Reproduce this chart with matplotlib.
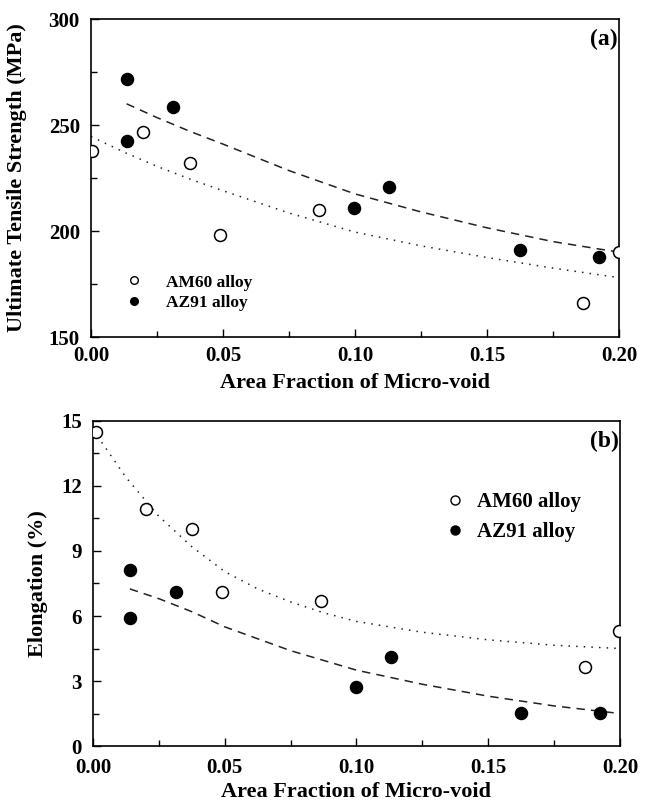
import matplotlib
matplotlib.use("Agg")
import matplotlib.pyplot as plt
from matplotlib.ticker import MultipleLocator, FormatStrFormatter
from matplotlib.lines import Line2D

plt.rcParams['font.family'] = ['Liberation Serif', 'DejaVu Serif']
plt.rcParams['font.weight'] = 'bold'

# (a) ultimate tensile strength vs area fraction of micro-void
am60_uts_x = [0.0003, 0.0198, 0.0375, 0.0489, 0.0865, 0.1865, 0.2001]
am60_uts_y = [237.7, 246.8, 231.9, 198.0, 209.8, 166.0, 190.1]
az91_uts_x = [0.0136, 0.0138, 0.0312, 0.0997, 0.1130, 0.1625, 0.1925]
az91_uts_y = [271.7, 242.5, 258.6, 211.0, 220.8, 190.9, 187.8]

# fitted trend curves as drawn in the figure
am60_uts_fit_x = [0.0, 0.0125, 0.025, 0.0375, 0.05, 0.075, 0.1, 0.125, 0.15, 0.175, 0.2]
am60_uts_fit_y = [244.6, 237.2, 230.5, 224.5, 219.0, 208.5, 199.5, 193.0, 187.5, 182.5, 178.0]
az91_uts_fit_x = [0.0135, 0.025, 0.0375, 0.05, 0.075, 0.1, 0.125, 0.15, 0.175, 0.2]
az91_uts_fit_y = [260.0, 253.5, 247.0, 241.0, 228.5, 217.5, 209.0, 201.5, 195.0, 190.0]

# (b) elongation vs area fraction of micro-void
am60_el_x = [0.0010, 0.0200, 0.0374, 0.0488, 0.0865, 0.1866, 0.1997]
am60_el_y = [14.5, 10.93, 10.02, 7.11, 6.71, 3.63, 5.32]
az91_el_x = [0.0140, 0.0140, 0.0314, 0.0997, 0.1130, 0.1626, 0.1923]
az91_el_y = [8.10, 5.91, 7.11, 2.73, 4.11, 1.51, 1.51]

am60_el_fit_x = [0.0, 0.0125, 0.025, 0.0375, 0.05, 0.0625, 0.075, 0.0875, 0.1, 0.125, 0.15, 0.175, 0.2]
am60_el_fit_y = [14.6, 12.4, 10.6, 9.2, 8.05, 7.25, 6.65, 6.15, 5.75, 5.25, 4.9, 4.65, 4.5]
az91_el_fit_x = [0.014, 0.025, 0.0375, 0.05, 0.075, 0.1, 0.125, 0.15, 0.175, 0.2]
az91_el_fit_y = [7.25, 6.8, 6.2, 5.5, 4.4, 3.5, 2.85, 2.3, 1.85, 1.5]

labels = ['AM60 alloy', 'AZ91 alloy']
xticks = [0.00, 0.05, 0.10, 0.15, 0.20]

fig = plt.figure(figsize=(6.47, 8.02), dpi=100)
ax1 = fig.add_axes([0.1406, 0.5798, 0.8161, 0.3965])
ax2 = fig.add_axes([0.1437, 0.0698, 0.8146, 0.4053])

ms = 8.6
dot_style = (0, (1, 4))
dash_style = (0, (5.5, 4))


def draw_panel(ax, ax_am_x, ax_am_y, ax_az_x, ax_az_y, fit_am, fit_az, xpad):
    ax.plot(fit_am[0], fit_am[1], linestyle=dot_style, color='#222222', lw=1.1, zorder=2)
    ax.plot(fit_az[0], fit_az[1], linestyle=dash_style, color='#222222', lw=1.1, zorder=2)
    ax.plot(ax_am_x, ax_am_y, 'o', ms=ms, mfc='white', mec='black', mew=1.1, zorder=3)
    ax.plot(ax_az_x, ax_az_y, 'o', ms=ms, mfc='black', mec='black', mew=1.1, zorder=3)
    ax.set_xlim(0, 0.2)
    ax.set_xticks(xticks)
    ax.xaxis.set_major_formatter(FormatStrFormatter('%.2f'))
    ax.xaxis.set_minor_locator(MultipleLocator(0.025))
    ax.tick_params(which='both', direction='in', top=False, right=False,
                   labelsize=15, width=1.0)
    ax.tick_params(axis='x', pad=xpad)
    ax.tick_params(axis='y', pad=8)
    ax.tick_params(which='major', length=6)
    ax.tick_params(which='minor', length=4)
    for s in ax.spines.values():
        s.set_linewidth(1.2)
    for lab in ax.get_xticklabels() + ax.get_yticklabels():
        lab.set_fontweight('bold')


draw_panel(ax1, am60_uts_x, am60_uts_y, az91_uts_x, az91_uts_y,
           (am60_uts_fit_x, am60_uts_fit_y), (az91_uts_fit_x, az91_uts_fit_y), 6.5)
ax1.set_ylim(150, 300)
ax1.yaxis.set_major_locator(MultipleLocator(50))
ax1.yaxis.set_minor_locator(MultipleLocator(25))
ax1.set_xlabel('Area Fraction of Micro-void', fontsize=16, fontweight='bold')
ax1.set_ylabel('Ultimate Tensile Strength (MPa)', fontsize=16, fontweight='bold')
ax1.xaxis.set_label_coords(0.5, -0.112)
ax1.yaxis.set_label_coords(-0.14, 0.5)
ax1.yaxis.label.set_va('center')
ax1.text(0.998, 0.968, '(a)', transform=ax1.transAxes, ha='right', va='top',
         fontsize=17, fontweight='bold')

draw_panel(ax2, am60_el_x, am60_el_y, az91_el_x, az91_el_y,
           (am60_el_fit_x, am60_el_fit_y), (az91_el_fit_x, az91_el_fit_y), 8.5)
ax2.set_ylim(0, 15)
ax2.yaxis.set_major_locator(MultipleLocator(3))
ax2.yaxis.set_minor_locator(MultipleLocator(1.5))
ax2.set_xlabel('Area Fraction of Micro-void', fontsize=16, fontweight='bold')
ax2.set_ylabel('Elongation (%)', fontsize=16, fontweight='bold')
ax2.xaxis.set_label_coords(0.5, -0.11)
ax2.yaxis.set_label_coords(-0.104, 0.5)
ax2.yaxis.label.set_va('center')
ax2.text(0.998, 0.968, '(b)', transform=ax2.transAxes, ha='right', va='top',
         fontsize=17, fontweight='bold')


def handles(size):
    return [Line2D([], [], ls='none', marker='o', ms=size, mfc='white', mec='black', mew=1.0),
            Line2D([], [], ls='none', marker='o', ms=size, mfc='black', mec='black', mew=1.0)]


ax1.legend(handles(5.5), labels, loc='upper left', bbox_to_anchor=(0.066, 0.197),
           frameon=False, borderpad=0, borderaxespad=0, handlelength=1.0,
           handletextpad=1.3, labelspacing=0.25, prop={'size': 12.5, 'weight': 'bold'})
ax2.legend(handles(6.5), labels, loc='upper left', bbox_to_anchor=(0.667, 0.78),
           frameon=False, borderpad=0, borderaxespad=0, handlelength=1.0,
           handletextpad=0.55, labelspacing=0.45, prop={'size': 15, 'weight': 'bold'})

fig.savefig('out.png', dpi=100)
